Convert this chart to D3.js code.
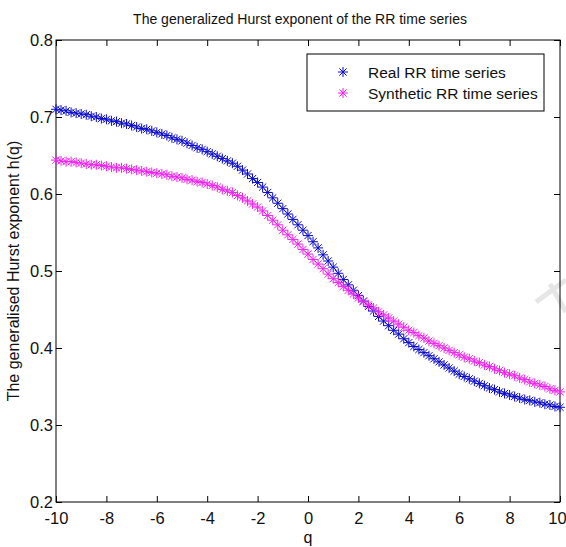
<!DOCTYPE html>
<html>
<head>
<meta charset="utf-8">
<script src="https://cdn.jsdelivr.net/npm/d3@7"></script>
<style>
  body { margin: 0; background: #fff; }
  svg { display: block; font-family: "Liberation Sans", Arial, sans-serif; }
</style>
</head>
<body>
<svg id="chart" width="566" height="547"></svg>
<script>
// q values, step 0.2
const qValues = [
  -10, -9.8, -9.6, -9.4, -9.2, -9, -8.8, -8.6, -8.4, -8.2,
  -8, -7.8, -7.6, -7.4, -7.2, -7, -6.8, -6.6, -6.4, -6.2,
  -6, -5.8, -5.6, -5.4, -5.2, -5, -4.8, -4.6, -4.4, -4.2,
  -4, -3.8, -3.6, -3.4, -3.2, -3, -2.8, -2.6, -2.4, -2.2,
  -2, -1.8, -1.6, -1.4, -1.2, -1, -0.8, -0.6, -0.4, -0.2,
  0, 0.2, 0.4, 0.6, 0.8, 1, 1.2, 1.4, 1.6, 1.8,
  2, 2.2, 2.4, 2.6, 2.8, 3, 3.2, 3.4, 3.6, 3.8,
  4, 4.2, 4.4, 4.6, 4.8, 5, 5.2, 5.4, 5.6, 5.8,
  6, 6.2, 6.4, 6.6, 6.8, 7, 7.2, 7.4, 7.6, 7.8,
  8, 8.2, 8.4, 8.6, 8.8, 9, 9.2, 9.4, 9.6, 9.8,
  10
];

// h(q) for the real RR series
const realH = [
  0.710, 0.709, 0.708, 0.706, 0.705, 0.704, 0.703, 0.701, 0.700, 0.698,
  0.697, 0.695, 0.694, 0.692, 0.691, 0.689, 0.687, 0.685, 0.684, 0.682,
  0.680, 0.678, 0.676, 0.673, 0.671, 0.669, 0.666, 0.663, 0.660, 0.658,
  0.655, 0.652, 0.649, 0.646, 0.643, 0.640, 0.636, 0.631, 0.626, 0.620,
  0.615, 0.609, 0.602, 0.595, 0.588, 0.581, 0.574, 0.567, 0.560, 0.553,
  0.546, 0.538, 0.530, 0.521, 0.513, 0.505, 0.497, 0.489, 0.482, 0.475,
  0.468, 0.461, 0.454, 0.448, 0.441, 0.435, 0.429, 0.423, 0.418, 0.412,
  0.407, 0.402, 0.398, 0.394, 0.390, 0.386, 0.382, 0.378, 0.374, 0.370,
  0.366, 0.363, 0.360, 0.357, 0.354, 0.351, 0.348, 0.346, 0.343, 0.341,
  0.339, 0.337, 0.335, 0.333, 0.332, 0.330, 0.329, 0.327, 0.326, 0.324,
  0.323
];

// h(q) for the synthetic RR series
const synthH = [
  0.644, 0.643, 0.642, 0.642, 0.641, 0.640, 0.639, 0.638, 0.638, 0.637,
  0.636, 0.635, 0.634, 0.634, 0.633, 0.632, 0.631, 0.630, 0.629, 0.628,
  0.627, 0.626, 0.625, 0.623, 0.622, 0.621, 0.619, 0.618, 0.616, 0.615,
  0.613, 0.611, 0.609, 0.606, 0.604, 0.602, 0.598, 0.595, 0.591, 0.587,
  0.583, 0.578, 0.572, 0.566, 0.560, 0.553, 0.547, 0.541, 0.535, 0.528,
  0.522, 0.515, 0.509, 0.503, 0.496, 0.490, 0.485, 0.480, 0.475, 0.470,
  0.465, 0.460, 0.456, 0.452, 0.447, 0.443, 0.439, 0.435, 0.431, 0.427,
  0.423, 0.420, 0.416, 0.413, 0.409, 0.406, 0.403, 0.400, 0.397, 0.394,
  0.391, 0.388, 0.386, 0.383, 0.381, 0.378, 0.376, 0.373, 0.371, 0.368,
  0.366, 0.364, 0.361, 0.359, 0.356, 0.354, 0.352, 0.350, 0.347, 0.345,
  0.343
];

const xTicks = [-10, -8, -6, -4, -2, 0, 2, 4, 6, 8, 10];
const yTicks = [0.2, 0.3, 0.4, 0.5, 0.6, 0.7, 0.8];
const seriesNames = ["Real RR time series", "Synthetic RR time series"];
const seriesColors = ["#0a0ace", "#f020f0"];

const plotLeft = 56, plotRight = 560, plotTop = 40, plotBottom = 502;

const svg = d3.select("#chart");

const x = d3.scaleLinear().domain([-10, 10]).range([plotLeft, plotRight]);
const y = d3.scaleLinear().domain([0.2, 0.8]).range([plotBottom, plotTop]);

// faint watermark stroke at right edge
svg.append("path")
    .attr("d", "M536,302 L566,280 M550,284 L566,312")
    .attr("stroke", "#e6e6e6")
    .attr("stroke-width", 5)
    .attr("fill", "none");

// axes box
svg.append("rect")
    .attr("x", plotLeft).attr("y", plotTop)
    .attr("width", plotRight - plotLeft).attr("height", plotBottom - plotTop)
    .attr("fill", "none").attr("stroke", "#000").attr("stroke-width", 1);

const tickLen = 6;
// plain hyphen minus like the original
const fmtX = function(d) { return String(d).replace("\u2212", "-"); };

const xAxis = svg.append("g")
    .attr("transform", `translate(0,${plotBottom})`)
    .call(d3.axisBottom(x).tickValues(xTicks).tickSizeInner(-tickLen).tickSizeOuter(0).tickPadding(10).tickFormat(fmtX));
svg.append("g")
    .attr("transform", `translate(0,${plotTop})`)
    .call(d3.axisTop(x).tickValues(xTicks).tickSizeInner(-tickLen).tickSizeOuter(0).tickFormat(""));
svg.append("g")
    .attr("transform", `translate(${plotLeft},0)`)
    .call(d3.axisLeft(y).tickValues(yTicks).tickSizeInner(-tickLen).tickSizeOuter(0).tickPadding(3).tickFormat(function(d) { return d.toFixed(1); }));
svg.append("g")
    .attr("transform", `translate(${plotRight},0)`)
    .call(d3.axisRight(y).tickValues(yTicks).tickSizeInner(-tickLen).tickSizeOuter(0).tickFormat(""));

svg.selectAll(".domain").remove();
svg.selectAll(".tick line").attr("stroke", "#000");
svg.selectAll(".tick text")
    .attr("fill", "#111")
    .style("font-family", "'Liberation Sans', Arial, sans-serif")
    .style("font-size", "16.5px");

// last label sits at the page edge, nudge it in a little
xAxis.selectAll(".tick text").filter(function(d) { return d === 10; }).attr("dx", -3);

// star marker like MATLAB '*'
function starPath(r) {
    const a = r * 0.72;
    return `M0,${-r}V${r}M${-r},0H${r}M${-a},${-a}L${a},${a}M${-a},${a}L${a},${-a}`;
}

const series = [realH, synthH];
series.forEach(function(vals, i) {
    svg.append("g")
        .selectAll("path")
        .data(qValues)
        .enter().append("path")
        .attr("transform", function(d, j) { return `translate(${x(d)},${y(vals[j])})`; })
        .attr("d", starPath(5))
        .attr("stroke", seriesColors[i])
        .attr("stroke-width", 1)
        .attr("fill", "none");
});

// title and axis labels
svg.append("text")
    .attr("x", (plotLeft + plotRight) / 2 - 8).attr("y", 24)
    .attr("text-anchor", "middle")
    .style("font-size", "14px")
    .attr("fill", "#111")
    .text("The generalized Hurst exponent of the RR time series");

svg.append("text")
    .attr("x", x(0)).attr("y", 543)
    .attr("text-anchor", "middle")
    .style("font-size", "16px")
    .attr("fill", "#111")
    .text("q");

svg.append("text")
    .attr("transform", `translate(19,${(plotTop + plotBottom) / 2}) rotate(-90)`)
    .attr("text-anchor", "middle")
    .style("font-size", "16px")
    .attr("fill", "#111")
    .text("The generalised Hurst exponent h(q)");

// legend
const legend = svg.append("g");
legend.append("rect")
    .attr("x", 307).attr("y", 54)
    .attr("width", 237).attr("height", 57)
    .attr("fill", "#fff").attr("stroke", "#000").attr("stroke-width", 1);

const rows = legend.selectAll("g.row")
    .data(seriesNames)
    .enter().append("g")
    .attr("class", "row")
    .attr("transform", function(d, i) { return `translate(343,${72 + i * 21})`; });

rows.append("path")
    .attr("d", starPath(5))
    .attr("stroke", function(d, i) { return seriesColors[i]; })
    .attr("stroke-width", 1)
    .attr("fill", "none");

rows.append("text")
    .attr("x", 25).attr("dy", "0.36em")
    .style("font-size", "15.5px")
    .attr("fill", "#111")
    .text(function(d) { return d; });
</script>
</body>
</html>
